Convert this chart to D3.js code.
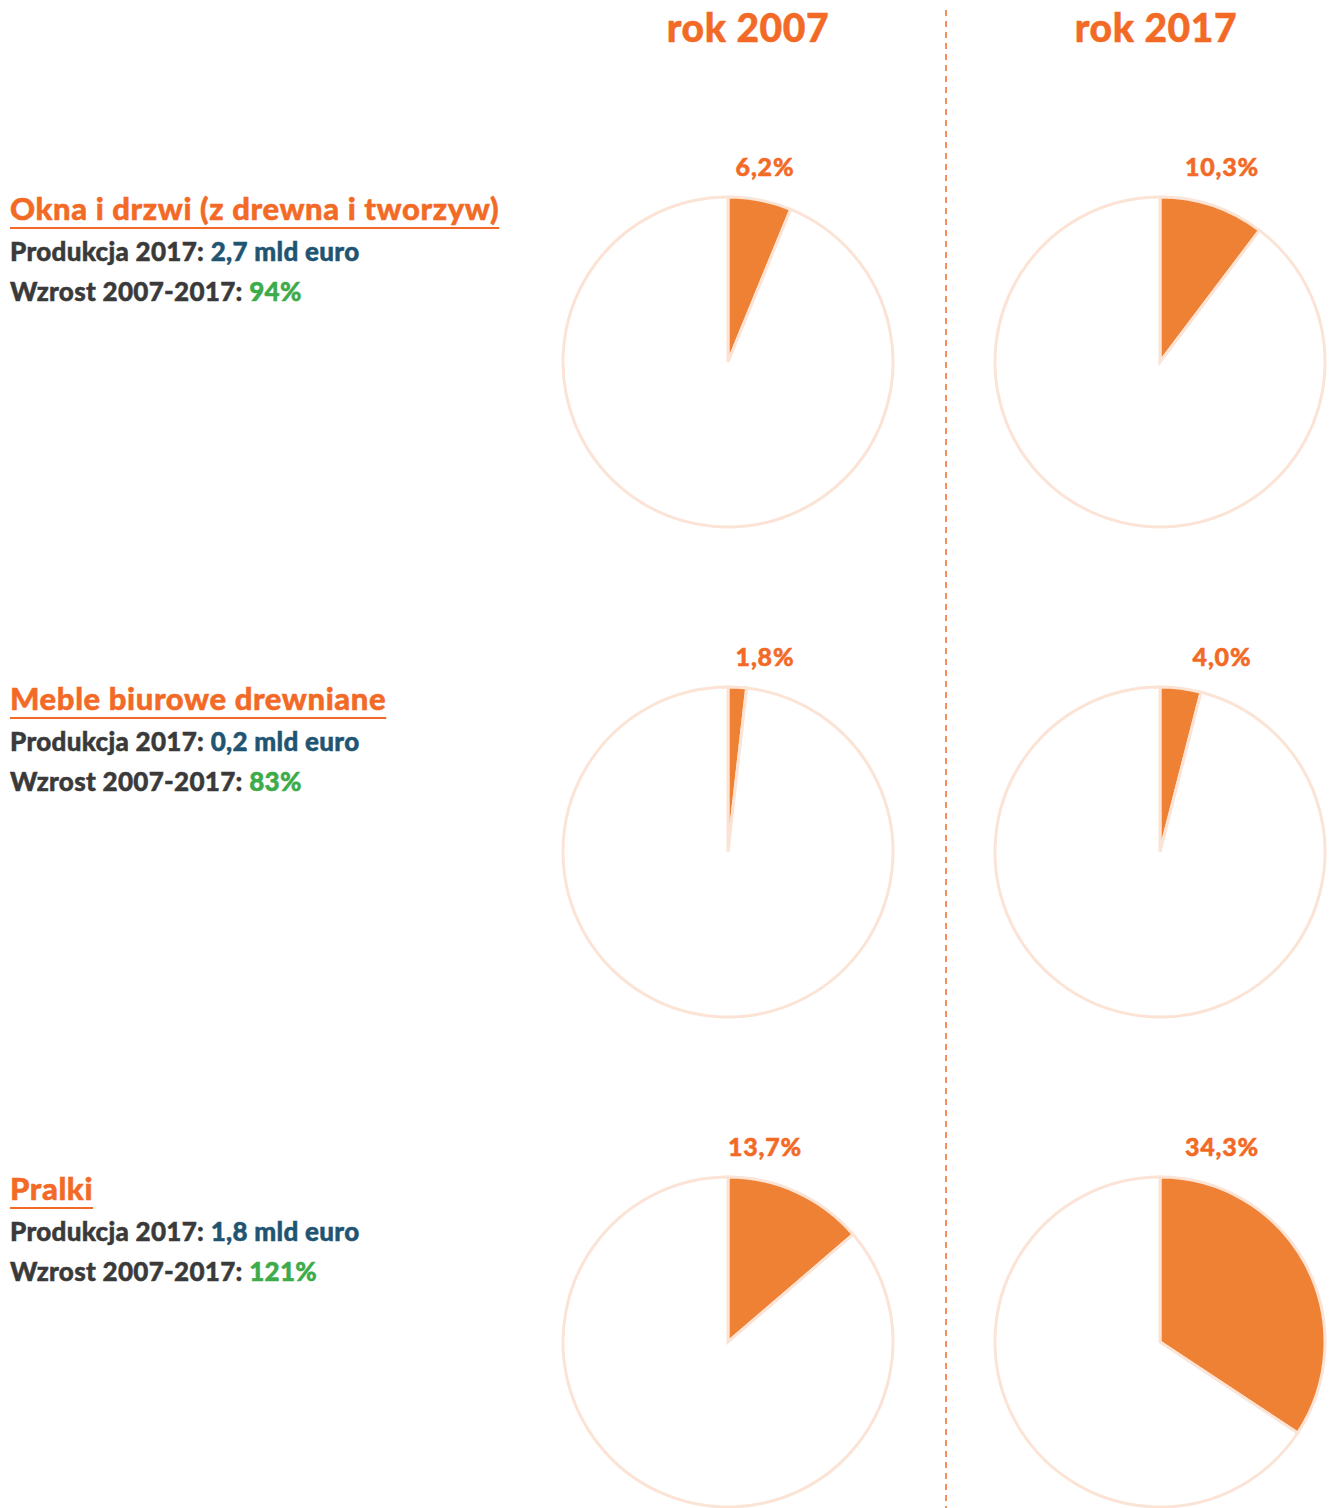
<!DOCTYPE html>
<html>
<head>
<meta charset="utf-8">
<script src="https://cdn.jsdelivr.net/npm/d3@7"></script>
<style>
  body { margin: 0; background: #fff; }
  svg text { font-family: Lato, "Open Sans", sans-serif; font-weight: 900; }
</style>
</head>
<body>
<svg id="chart" width="1330" height="1508"></svg>
<script>
// data
var categories = ["Okna i drzwi (z drewna i tworzyw)", "Meble biurowe drewniane", "Pralki"];
var years = ["rok 2007", "rok 2017"];
var share2007 = [6.2, 1.8, 13.7];
var share2017 = [10.3, 4.0, 34.3];
var production2017 = ["2,7 mld euro", "0,2 mld euro", "1,8 mld euro"];
var growth = ["94%", "83%", "121%"];

var svg = d3.select("#chart");
var orange = "#f26a26", sliceColor = "#ee8133", pale = "#fbe4d6";
var darkText = "#3a3a3a", blueText = "#1f5572", greenText = "#3cab4a";

var colX = d3.scaleOrdinal().domain(years).range([728, 1160]);
var rowY = d3.scaleBand().domain(categories).range([117, 1587]); // 490 per row
var radius = 165;

// bold-ish text helper (fake heavier weight)
function heavy(sel, size, spacing, color) {
  return sel.style("font-size", size + "px")
    .style("letter-spacing", spacing + "px")
    .style("fill", color)
    .style("stroke", color)
    .style("stroke-width", 0.5);
}

// headers
svg.selectAll(".year").data(years).enter().append("text")
  .attr("class", "year")
  .attr("x", function(d){ return colX(d) + (d == "rok 2007" ? 20 : -4); })
  .attr("y", 42)
  .attr("text-anchor", "middle")
  .call(heavy, 39, 0.6, orange)
  .text(function(d){ return d; });

// dashed divider
svg.append("line")
  .attr("x1", 946).attr("x2", 946).attr("y1", 10).attr("y2", 1508)
  .style("stroke", orange).style("stroke-width", 1.5)
  .style("stroke-dasharray", "6,5");

var pie = d3.pie().sort(null).value(function(d){ return d; });
var arc = d3.arc().innerRadius(0).outerRadius(radius);

categories.forEach(function(cat, i) {
  var top = rowY(cat);

  // left text block
  var title = svg.append("text")
    .attr("x", 10).attr("y", top + 103)
    .call(heavy, 31, 0.6, orange)
    .text(cat);
  var w = title.node().getComputedTextLength();
  svg.append("line")
    .attr("x1", 10).attr("x2", 10 + w)
    .attr("y1", top + 111).attr("y2", top + 111)
    .style("stroke", orange).style("stroke-width", 2);

  var t1 = svg.append("text").attr("x", 10).attr("y", top + 144)
    .call(heavy, 26, 0.3, darkText);
  t1.append("tspan").text("Produkcja 2017: ");
  t1.append("tspan").style("fill", blueText).style("stroke", blueText).text(production2017[i]);

  var t2 = svg.append("text").attr("x", 10).attr("y", top + 184)
    .call(heavy, 26, 0.3, darkText);
  t2.append("tspan").text("Wzrost 2007-2017: ");
  t2.append("tspan").style("fill", greenText).style("stroke", greenText).text(growth[i]);

  // pies
  [share2007[i], share2017[i]].forEach(function(v, j) {
    var cx = colX(years[j]), cy = top + 245;
    var g = svg.append("g").attr("transform", "translate(" + cx + "," + cy + ")");
    g.selectAll("path").data(pie([v, 100 - v])).enter().append("path")
      .attr("d", arc)
      .style("fill", function(d, k){ return k == 0 ? sliceColor : "#fff"; })
      .style("stroke", pale)
      .style("stroke-width", 3);
    svg.append("text")
      .attr("x", j == 0 ? 765 : 1222)
      .attr("y", top + 59)
      .attr("text-anchor", "middle")
      .call(heavy, 25, 0.8, orange)
      .text(d3.format(".1f")(v).replace(".", ",") + "%");
  });
});
</script>
</body>
</html>
